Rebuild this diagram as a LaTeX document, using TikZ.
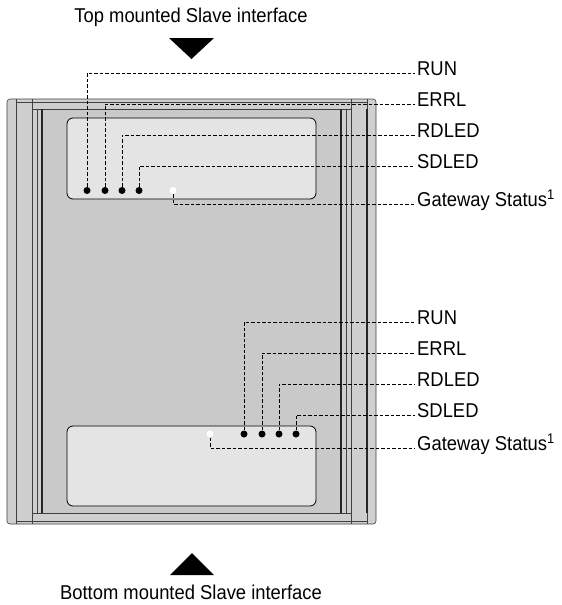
\documentclass[tikz,border=0pt]{standalone}
\usepackage{fontspec}
\setmainfont{Liberation Sans}[FakeStretch=0.92]
\usetikzlibrary{positioning}

\definecolor{housing}{gray}{0.81}
\definecolor{panel}{gray}{0.79}
\definecolor{window}{gray}{0.895}

\tikzset{
  led/.style={circle,fill=black,inner sep=0pt,minimum size=7pt},
  ledoff/.style={circle,fill=white,inner sep=0pt,minimum size=7pt},
  leader/.style={dash pattern=on 3.5pt off 2pt,line width=0.9pt},
  lbl/.style={anchor=mid west,inner sep=2pt,font=\fontsize{20}{24}\selectfont},
  title/.style={inner sep=1pt,font=\fontsize{20}{24}\selectfont},
  edge/.style={line width=0.6pt,black!75},
  thickedge/.style={line width=1.4pt,black!85},
}

\begin{document}
\begin{tikzpicture}[x=1pt,y=-1pt]
\useasboundingbox (0,0) rectangle (562,605);

% housing
\draw[edge,fill=housing,rounded corners=3pt] (7,99) rectangle (376,524);
\fill[panel] (42,109) rectangle (341,513);
\draw[edge] (16,99) -- (16,524);
\draw[edge] (367,99) -- (367,524);
\draw[edge] (32,99) -- (32,524);
\draw[edge] (351,99) -- (351,524);
\draw[edge] (16,102) -- (367,102);
\draw[edge] (32,109) -- (351,109);
\draw[edge] (32,513) -- (351,513);
\draw[edge] (16,521) -- (367,521);
\draw[edge] (37,109) -- (37,513);
\draw[edge] (346,109) -- (346,513);
\draw[thickedge] (42,109) -- (42,513);
\draw[thickedge] (341,109) -- (341,513);
\draw[thickedge] (367,109) -- (367,513);

% LED windows
\draw[line width=0.8pt,fill=window,rounded corners=6pt] (67,118) rectangle (316,199);
\draw[line width=0.8pt,fill=window,rounded corners=6pt] (67,426) rectangle (316,506);

% top mounted interface
\fill (169,38) -- (214,38) -- (191.5,59) -- cycle;
\node[title] (toptitle) at (191,17) {Top mounted Slave interface};
\foreach \i/\x/\lab/\y in {1/87/RUN/73, 2/105/ERRL/104, 3/122/RDLED/135, 4/139/SDLED/166}{
  \node[led] (tl\i) at (\x,190.5) {};
  \node[lbl] (tt\i) at (415,\y) {\lab};
  \draw[leader] (tl\i) |- (tt\i.mid west);
}
\node[ledoff] (tg) at (173,190.5) {};
\node[lbl] (ttg) at (415,204) {Gateway Status\textsuperscript{1}};
\draw[leader] (tg) |- (ttg.mid west);

% bottom mounted interface
\fill (170,575) -- (214,575) -- (192,553) -- cycle;
\node[title] (bottitle) at (191,592) {Bottom mounted Slave interface};
\foreach \i/\x/\lab/\y in {1/244/RUN/322, 2/262/ERRL/353, 3/279/RDLED/384, 4/296/SDLED/415}{
  \node[led] (bl\i) at (\x,434) {};
  \node[lbl] (bt\i) at (415,\y) {\lab};
  \draw[leader] (bl\i) |- (bt\i.mid west);
}
\node[ledoff] (bg) at (210,434) {};
\node[lbl] (btg) at (415,448) {Gateway Status\textsuperscript{1}};
\draw[leader] (bg) |- (btg.mid west);
\end{tikzpicture}
\end{document}
